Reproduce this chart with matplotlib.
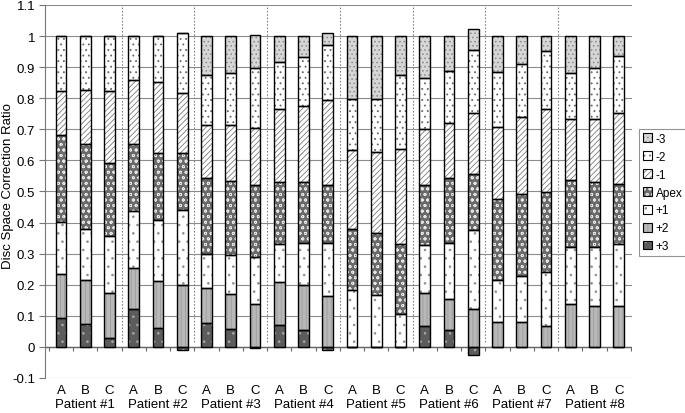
import matplotlib
matplotlib.use('Agg')
import matplotlib.pyplot as plt
from matplotlib.patches import Patch
import numpy as np

plt.rcParams['font.family'] = ['Liberation Sans', 'DejaVu Sans']
plt.rcParams['hatch.linewidth'] = 0.6

patients = ['Patient #1', 'Patient #2', 'Patient #3', 'Patient #4',
            'Patient #5', 'Patient #6', 'Patient #7', 'Patient #8']
sub_labels = ['A', 'B', 'C']
y_tick_labels = ['-0.1', '0', '0.1', '0.2', '0.3', '0.4', '0.5', '0.6',
                 '0.7', '0.8', '0.9', '1', '1.1']

# segment values, bars ordered P1A,P1B,P1C,P2A,...,P8C
plus3 = [0.094, 0.073, 0.030, 0.123, 0.062, -0.011, 0.078, 0.057, -0.003,
         0.071, 0.054, -0.011, 0.0, 0.0, 0.0, 0.068, 0.054, -0.027,
         0.0, 0.0, 0.0, 0.0, 0.0, 0.0]
plus2 = [0.140, 0.141, 0.143, 0.132, 0.150, 0.198, 0.113, 0.112, 0.137,
         0.138, 0.144, 0.164, 0.0, 0.0, 0.0, 0.105, 0.101, 0.123,
         0.080, 0.080, 0.068, 0.139, 0.132, 0.132]
plus1 = [0.168, 0.166, 0.184, 0.182, 0.196, 0.243, 0.107, 0.126, 0.153,
         0.121, 0.137, 0.171, 0.182, 0.166, 0.105, 0.155, 0.180, 0.253,
         0.135, 0.148, 0.173, 0.183, 0.190, 0.198]
apex = [0.279, 0.272, 0.236, 0.215, 0.217, 0.184, 0.246, 0.239, 0.231,
        0.201, 0.196, 0.185, 0.196, 0.199, 0.227, 0.192, 0.209, 0.179,
        0.260, 0.265, 0.257, 0.215, 0.209, 0.193]
minus1 = [0.142, 0.173, 0.230, 0.207, 0.228, 0.193, 0.169, 0.179, 0.184,
          0.233, 0.244, 0.273, 0.254, 0.262, 0.306, 0.180, 0.177, 0.198,
          0.232, 0.247, 0.266, 0.197, 0.203, 0.230]
minus2 = [0.177, 0.175, 0.177, 0.141, 0.147, 0.191, 0.161, 0.169, 0.191,
          0.152, 0.159, 0.177, 0.167, 0.172, 0.236, 0.166, 0.166, 0.202,
          0.178, 0.169, 0.188, 0.146, 0.162, 0.183]
minus3 = [0.0, 0.0, 0.0, 0.0, 0.0, 0.0, 0.126, 0.118, 0.107,
          0.084, 0.066, 0.041, 0.201, 0.201, 0.126, 0.134, 0.113, 0.069,
          0.115, 0.091, 0.048, 0.120, 0.104, 0.064]

levels = ['+3', '+2', '+1', 'Apex', '-1', '-2', '-3']
series = [plus3, plus2, plus1, apex, minus1, minus2, minus3]

styles = {
    '+3':   dict(face='#5c5c5c', hatch='..', hc='#a8a8a8'),
    '+2':   dict(face='#b8b8b8', hatch='||||', hc='#9c9c9c'),
    '+1':   dict(face='white', hatch='..', hc='#8c8c8c'),
    'Apex': dict(face='#6a6a6a', hatch='ooo', hc='#e6e6e6'),
    '-1':   dict(face='white', hatch='//////', hc='#7a7a7a'),
    '-2':   dict(face='white', hatch='...', hc='#666666'),
    '-3':   dict(face='#d6d6d6', hatch='....', hc='#8a8a8a'),
}

fig = plt.figure(figsize=(6.85, 4.14), dpi=100)
ax = fig.add_axes([45 / 685, 1 - 379 / 414, (632 - 45) / 685, (379 - 6) / 414])

n = len(plus3)
x = np.arange(n)
width = 0.44
pos_bottom = np.zeros(n)
neg_bottom = np.zeros(n)
handles = []
for lev, vals in zip(levels, series):
    vals = np.array(vals)
    bottoms = np.where(vals >= 0, pos_bottom, neg_bottom)
    st = styles[lev]
    ax.bar(x, vals, width, bottom=bottoms, color=st['face'], edgecolor=st['hc'],
           hatch=st['hatch'], linewidth=0, zorder=3)
    ax.bar(x, vals, width, bottom=bottoms, fill=False, edgecolor='black',
           linewidth=1.0, zorder=4)
    pos_bottom = pos_bottom + np.where(vals >= 0, vals, 0)
    neg_bottom = neg_bottom + np.where(vals < 0, vals, 0)
    handles.append((Patch(facecolor=st['face'], edgecolor=st['hc'], hatch=st['hatch'], linewidth=0),
                    Patch(fill=False, edgecolor='black', linewidth=0.8)))

ax.set_xlim(-0.66, n - 1 + 0.55)
ax.set_ylim(-0.1, 1.1)
yt = np.arange(-0.1, 1.101, 0.1)
ax.set_yticks(yt)
ax.set_yticklabels(y_tick_labels, fontsize=9.5)
ax.yaxis.grid(True, color='#8c8c8c', linewidth=0.8)
ax.set_axisbelow(True)
ax.tick_params(axis='y', length=4, color='#777777', pad=3)

ax.set_xticks(x)
ax.set_xticklabels([sub_labels[i % 3] for i in range(n)], fontsize=9.5)
ax.tick_params(axis='x', length=0, pad=4)

for s in ['top', 'right', 'bottom']:
    ax.spines[s].set_visible(False)
ax.spines['left'].set_color('#777777')

# zero axis with category ticks
ax.axhline(0, color='#666666', linewidth=1.0, zorder=2)
ax.vlines(np.arange(-0.5, n, 1.0), 0, -0.013, color='#666666', linewidth=0.8, zorder=2)

# group separators
for g in range(1, len(patients)):
    ax.vlines(3 * g - 0.5, 0.015, 1.1, color='#888888', linestyles=(0, (1.5, 1.5)),
              linewidth=0.8, zorder=2)

for i, p in enumerate(patients):
    ax.annotate(p, xy=(3 * i + 1, 0), xycoords=('data', 'axes fraction'),
                xytext=(0, -19), textcoords='offset points', ha='center', va='center',
                fontsize=9.5, annotation_clip=False)

fig.text(8 / 685, 1 - 186 / 414, 'Disc Space Correction Ratio', rotation=90,
         ha='center', va='center', fontsize=9.5)

leg = fig.legend(handles[::-1], levels[::-1], loc='center left',
                 bbox_to_anchor=(639 / 685, 1 - 193.5 / 414), fontsize=8.5,
                 frameon=True, fancybox=False, handlelength=0.75, handleheight=0.75,
                 handletextpad=0.3, borderpad=0.35, labelspacing=0.5, borderaxespad=0)
leg.get_frame().set_edgecolor('#777777')
leg.get_frame().set_linewidth(0.8)

fig.savefig('out.png', dpi=100)
